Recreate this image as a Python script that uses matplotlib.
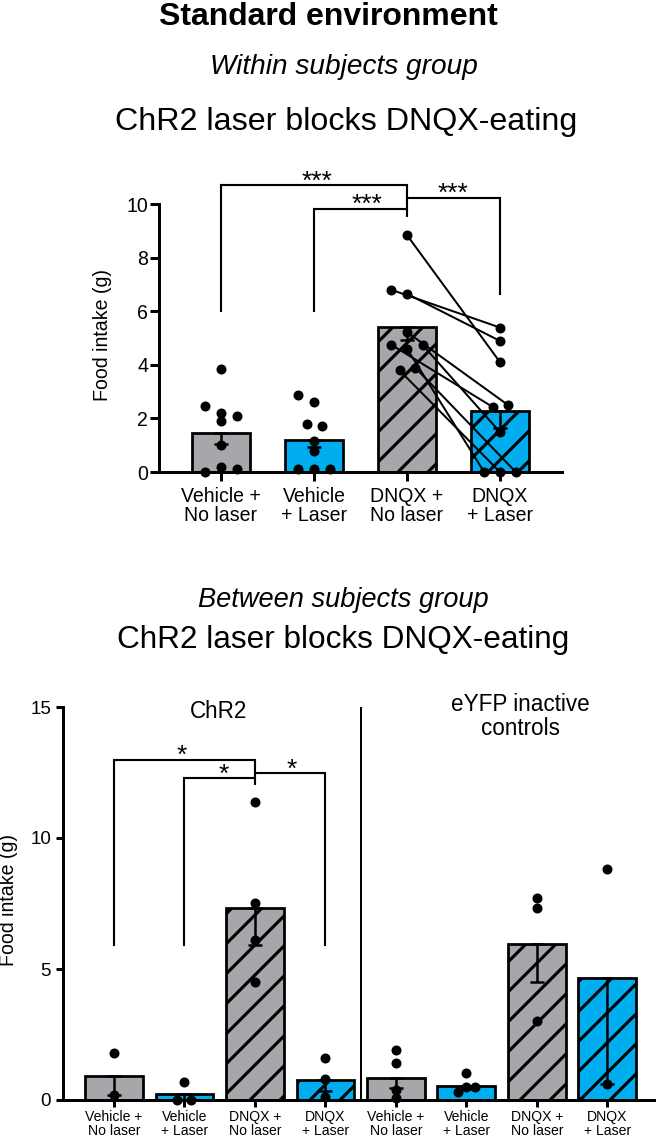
import numpy as np
import matplotlib
matplotlib.use("Agg")
import matplotlib.pyplot as plt

# --- data ---
within_labels = ["Vehicle +\nNo laser", "Vehicle\n+ Laser", "DNQX +\nNo laser", "DNQX\n+ Laser"]
within_means = [1.47, 1.18, 5.41, 2.28]
within_sem = [0.41, 0.25, 0.50, 0.64]
within_veh_nolaser = [3.83, 2.46, 2.21, 1.90, 2.09, 1.00, 0.19, 0.12, 0.0]
within_veh_laser = [2.86, 2.61, 1.80, 1.70, 1.14, 0.78, 0.12, 0.12, 0.12]
within_dnqx_nolaser = [8.84, 6.80, 6.65, 5.22, 4.75, 4.73, 4.60, 3.79, 3.89]
within_dnqx_laser = [4.10, 5.39, 4.89, 2.49, 2.43, 1.49, 0.0, 0.0, 0.0]  # same subject order as nolaser

between_labels = within_labels * 2
between_means = [0.93, 0.22, 7.32, 0.76, 0.85, 0.53, 5.94, 4.64]
between_sem = [0.74, 0.22, 1.40, 0.43, 0.40, 0.10, 1.42, 4.04]
between_points = [
    [1.81, 0.19],
    [0.70, 0.0, 0.0],
    [11.39, 7.51, 6.11, 4.49],
    [1.59, 0.80, 0.13],
    [1.91, 1.40, 0.38, 0.08],
    [1.02, 0.51, 0.51, 0.32],
    [7.70, 7.32, 3.02],
    [8.80, 0.60],
]

# significance brackets: (left bar, right bar, height, left leg end, right leg end)
within_sig = [(0, 2, 10.7, 6.0, 9.54), (1, 2, 9.83, 6.0, 9.83), (2, 3, 10.24, 10.24, 6.65)]
within_stars = [(1.03, 10.55), (1.57, 9.72), (2.49, 10.13)]
between_sig = [(0, 2, 12.98, 5.92, 12.06), (1, 2, 12.30, 5.92, 12.30), (2, 3, 12.49, 12.49, 5.92)]
between_stars = [(0.96, 12.85), (1.56, 12.15), (2.52, 12.35)]

# --- style ---
# jitter of dots inside each bar (x offsets)
within_jitter = [
    [0, -0.17, 0, 0, 0.17, 0, 0, 0.17, -0.17],
    [-0.17, 0, -0.08, 0.09, 0, 0, -0.17, 0, 0.17],
    [0, -0.17, 0, 0, -0.17, 0.17, 0, -0.08, 0.09],
    [0, 0, 0, 0.09, -0.08, 0, -0.17, 0, 0.17],
]
between_jitter = [
    [0, 0],
    [0, -0.1, 0.1],
    [0, 0, 0, 0],
    [0, 0, 0],
    [0, 0, 0, 0],
    [0, 0, 0.12, -0.12],
    [0, 0, 0],
    [0, 0],
]

GRAY = "#a6a6ab"
BLUE = "#00aeef"
bar_colors = [GRAY, BLUE, GRAY, BLUE]
bar_hatch = [None, None, "//", "//"]

DPI = 180
W, H = 656, 1142
plt.rcParams["font.family"] = ["Liberation Sans", "DejaVu Sans"]
plt.rcParams["hatch.linewidth"] = 1.25
plt.rcParams["hatch.color"] = "black"

fig = plt.figure(figsize=(W / DPI, H / DPI), dpi=DPI)


def px(x, y):
    return x / W, 1 - y / H


def style_axes(ax, tick_len, label_pad):
    for s in ["top", "right"]:
        ax.spines[s].set_visible(False)
    for s in ["left", "bottom"]:
        ax.spines[s].set_linewidth(1.2)
    ax.tick_params(axis="both", direction="out", length=tick_len, width=1.2, color="k")
    ax.tick_params(axis="y", pad=label_pad)


def draw_brackets(ax, sig, stars, star_text):
    for a, b, h, la, lb in sig:
        ax.plot([a, a, b, b], [la, h, h, lb], color="k", lw=0.85, clip_on=False,
                solid_joinstyle="miter", zorder=5)
    for x, y in stars:
        ax.text(x, y, star_text, ha="center", va="baseline", fontsize=10.5, clip_on=False)


# ================= top panel =================
ax1 = fig.add_axes([159 / W, 1 - 472 / H, (562 - 159) / W, 268 / H])
xs = np.arange(4)
ax1.bar(xs, within_means, width=0.62, color=bar_colors, edgecolor="k", linewidth=1.1,
        hatch=bar_hatch, zorder=2)
ax1.errorbar(xs, within_means, yerr=[within_sem, [0] * 4], fmt="none", ecolor="k",
             elinewidth=1.0, capsize=2.8, capthick=1.0, zorder=3)

groups = [within_veh_nolaser, within_veh_laser, within_dnqx_nolaser, within_dnqx_laser]
for i, (vals, jit) in enumerate(zip(groups, within_jitter)):
    ax1.plot(i + np.array(jit), vals, "o", color="k", ms=3.0, zorder=4, clip_on=False)

# paired lines DNQX no laser -> DNQX laser
for j in range(len(within_dnqx_nolaser)):
    ax1.plot([2 + within_jitter[2][j], 3 + within_jitter[3][j]],
             [within_dnqx_nolaser[j], within_dnqx_laser[j]], color="k", lw=0.8, zorder=3.5)

ax1.set_xlim(-0.667, 3.667)
ax1.set_ylim(0, 10)
ax1.set_yticks([0, 2, 4, 6, 8, 10])
ax1.set_xticks(xs)
ax1.set_xticklabels(within_labels, fontsize=7.8, linespacing=1.0)
ax1.tick_params(axis="y", labelsize=7.8)
style_axes(ax1, 3.6, 0.8)
ax1.tick_params(axis="x", pad=2.4)
draw_brackets(ax1, within_sig, within_stars, "***")
fig.text(*px(103, 335), "Food intake (g)", rotation=90, ha="center", va="center", fontsize=7.8)

# ================= bottom panel =================
ax2 = fig.add_axes([63 / W, 1 - 1100 / H, (W - 63) / W, 393 / H])
xb = np.arange(8)
ax2.bar(xb, between_means, width=0.82, color=bar_colors * 2, edgecolor="k", linewidth=1.1,
        hatch=bar_hatch * 2, zorder=2)
ax2.errorbar(xb, between_means, yerr=[between_sem, [0] * 8], fmt="none", ecolor="k",
             elinewidth=1.0, capsize=2.8, capthick=1.0, zorder=3)
for i, (vals, jit) in enumerate(zip(between_points, between_jitter)):
    ax2.plot(i + np.array(jit), vals, "o", color="k", ms=3.0, zorder=4, clip_on=False)

ax2.axvline(3.5, color="k", lw=0.8, zorder=1)
ax2.set_xlim(-0.723, 7.69)
ax2.set_ylim(0, 15)
ax2.set_yticks([0, 5, 10, 15])
ax2.set_xticks(xb)
ax2.set_xticklabels(between_labels, fontsize=5.6, linespacing=1.0)
ax2.tick_params(axis="y", labelsize=7.5)
style_axes(ax2, 2.8, 2.0)
ax2.tick_params(axis="x", pad=1.2)
draw_brackets(ax2, between_sig, between_stars, "*")
ax2.text(1.49, 15.25, "ChR2", ha="center", va="top", fontsize=9)
ax2.text(5.77, 15.55, "eYFP inactive\ncontrols", ha="center", va="top", fontsize=9,
         linespacing=1.1)
fig.text(*px(9, 900), "Food intake (g)", rotation=90, ha="center", va="center", fontsize=7.8)

# ================= titles =================
fig.text(*px(328, 25), "Standard environment", ha="center", va="baseline",
         fontsize=12.8, fontweight="bold")
fig.text(*px(344, 74), "Within subjects group", ha="center", va="baseline",
         fontsize=11.2, style="italic")
fig.text(*px(346, 130), "ChR2 laser blocks DNQX-eating", ha="center", va="baseline",
         fontsize=12.9)
fig.text(*px(343, 607), "Between subjects group", ha="center", va="baseline",
         fontsize=10.9, style="italic")
fig.text(*px(343, 648), "ChR2 laser blocks DNQX-eating", ha="center", va="baseline",
         fontsize=12.6)

fig.savefig("out.png", dpi=DPI)
